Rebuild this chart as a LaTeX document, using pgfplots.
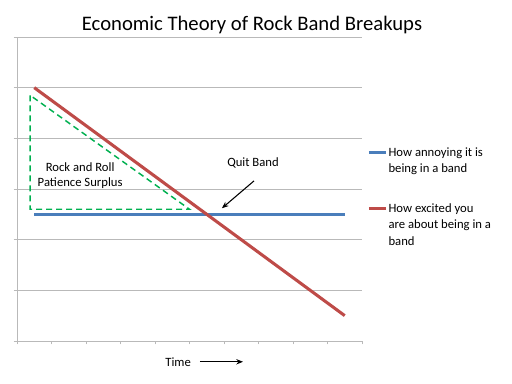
\documentclass[border=0pt]{standalone}
\usepackage{fontspec}
\setmainfont{Carlito}
\usepackage{pgfplots}
\pgfplotsset{compat=1.18}
\usetikzlibrary{arrows.meta}
\definecolor{xlblue}{RGB}{74,126,187}
\definecolor{xlred}{RGB}{190,75,72}
\definecolor{xlgreen}{RGB}{0,176,80}
\definecolor{gridgray}{RGB}{185,185,185}
\pgfplotsset{
  legtwo/.style={legend image code/.code={\draw[##1] (0pt,6.2pt) -- (12.75pt,6.2pt);}},
  legthree/.style={legend image code/.code={\draw[##1] (0pt,12.4pt) -- (12.75pt,12.4pt);}},
}
\begin{document}
\begin{tikzpicture}
\useasboundingbox (0,0) rectangle (384pt,288pt);
\node[font=\fontsize{15.5}{18}\selectfont, anchor=base] at (189pt,265pt) {Economic Theory of Rock Band Breakups};
\begin{axis}[
  at={(12.75pt,32.25pt)}, anchor=south west,
  scale only axis, width=258.75pt, height=228pt,
  xmin=0, xmax=10, ymin=0, ymax=6,
  xtick={0,...,10}, ytick={0,...,6},
  xticklabels={}, yticklabels={},
  tick align=outside, major tick length=2.5pt,
  axis x line*=bottom, axis y line*=left,
  axis line style={-, gridgray, line width=0.7pt},
  tick style={gridgray, line width=0.7pt},
  ymajorgrids, grid style={gridgray, line width=0.7pt},
  clip=false,
  legend style={draw=none, fill=none, at={(1.015,0.646)}, anchor=north west,
    inner sep=0pt, row sep=17.5pt, align=left, font=\fontsize{9.5}{12.4}\selectfont,
    nodes={inner xsep=0.8pt}},
  legend cell align=left,
]
\addplot[xlblue, line width=2.3pt, legtwo]
  coordinates {(0.5,2.5)(1.5,2.5)(2.5,2.5)(3.5,2.5)(4.5,2.5)(5.5,2.5)(6.5,2.5)(7.5,2.5)(8.5,2.5)(9.5,2.5)};
\addlegendentry{How annoying it is\\being in a band}
\addplot[xlred, line width=2.3pt, legthree]
  coordinates {(0.5,5)(1.5,4.5)(2.5,4)(3.5,3.5)(4.5,3)(5.5,2.5)(6.5,2)(7.5,1.5)(8.5,1)(9.5,0.5)};
\addlegendentry{How excited you\\are about being in a\\band}
\addplot[xlgreen, line width=1.1pt, dash pattern=on 4.5pt off 3pt, forget plot] coordinates {(0.38,4.85)(0.38,2.6)(5.0,2.6)(0.38,4.85)};
\node[font=\fontsize{9.5}{11.4}\selectfont, align=center] at (axis cs:1.83,3.26) {Rock and Roll\\Patience Surplus};
\node[font=\fontsize{9.5}{12.4}\selectfont] at (axis cs:6.84,3.51) {Quit Band};
\draw[-{Stealth[length=5pt,width=4pt]}, line width=0.8pt] (axis cs:6.87,3.16) -- (axis cs:5.94,2.62);
\node[font=\fontsize{9.5}{12.4}\selectfont] at (axis cs:4.67,-0.41) {Time};
\draw[-{Stealth[length=5pt,width=4pt]}, line width=0.9pt] (axis cs:5.3,-0.41) -- (axis cs:6.55,-0.41);
\end{axis}
\end{tikzpicture}
\end{document}
